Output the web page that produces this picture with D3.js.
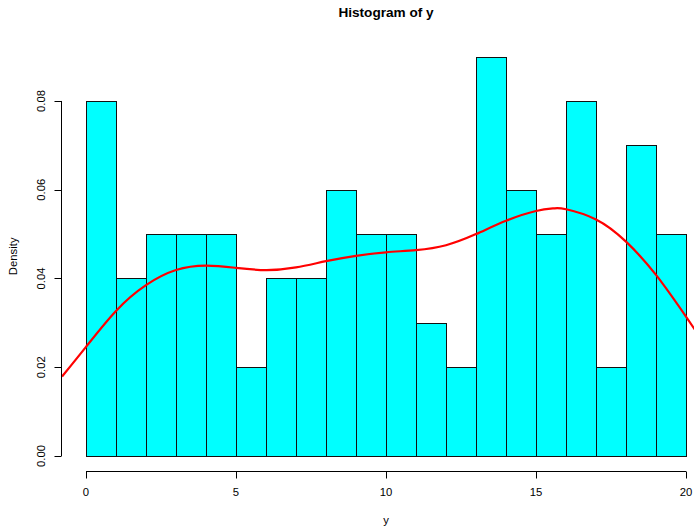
<!DOCTYPE html>
<html>
<head>
<meta charset="utf-8">
<script src="https://cdnjs.cloudflare.com/ajax/libs/d3/7.8.5/d3.min.js"></script>
<style>
  body { margin: 0; background: #fff; }
  svg { display: block; font-family: "Liberation Sans", Arial, sans-serif; }
</style>
</head>
<body>
<svg id="chart" width="694" height="528"></svg>
<script>
// histogram bins (width 1) and densities
const binStarts = d3.range(0, 20);
const densities = [0.08, 0.04, 0.05, 0.05, 0.05, 0.02, 0.04, 0.04, 0.06, 0.05,
                   0.05, 0.03, 0.02, 0.09, 0.06, 0.05, 0.08, 0.02, 0.07, 0.05];

// density curve
const curveX = [-0.8, 0, 1, 2, 3, 4, 5, 6, 7, 8, 9, 10, 11, 12, 13, 14, 15, 15.6, 16, 17, 18, 19, 20, 20.8];
const curveD = [0.0179, 0.0246, 0.0327, 0.0385, 0.0419, 0.0429, 0.0424, 0.0419, 0.0425, 0.0439,
                0.0451, 0.0459, 0.0464, 0.0475, 0.0500, 0.0530, 0.0552, 0.0558, 0.0556, 0.0533,
                0.0483, 0.0408, 0.0314, 0.0235];

const xTicks = [0, 5, 10, 15, 20];
const yTicks = [0, 0.02, 0.04, 0.06, 0.08];

const PLOT = { left: 62, right: 710, top: 40.6, bottom: 472 };

const $svg = d3.select('#chart');

const x = d3.scaleLinear().domain([-0.8, 20.8]).range([PLOT.left, PLOT.right]);
const y = d3.scaleLinear().domain([-0.0036, 0.0936]).range([PLOT.bottom, PLOT.top]);

// bars
$svg.append('g')
    .selectAll('rect')
    .data(binStarts)
    .enter().append('rect')
    .attr('x', d => Math.round(x(d)) + 0.5)
    .attr('y', (d, i) => Math.round(y(densities[i])) + 0.5)
    .attr('width', d => Math.round(x(d + 1)) - Math.round(x(d)))
    .attr('height', (d, i) => Math.round(y(0)) - Math.round(y(densities[i])))
    .attr('fill', '#00ffff')
    .attr('stroke', '#111')
    .attr('stroke-width', 1);

// density line, clipped to plot region
$svg.append('clipPath').attr('id', 'plotclip')
    .append('rect')
    .attr('x', PLOT.left).attr('y', PLOT.top)
    .attr('width', PLOT.right - PLOT.left).attr('height', PLOT.bottom - PLOT.top);

const line = d3.line()
    .x((d, i) => x(curveX[i]))
    .y(d => y(d))
    .curve(d3.curveNatural);

$svg.append('path')
    .attr('clip-path', 'url(#plotclip)')
    .attr('d', line(curveD))
    .attr('fill', 'none')
    .attr('stroke', '#ff0000')
    .attr('stroke-width', 2.2);

// x axis
const xAxis = $svg.append('g').attr('transform', `translate(0, ${PLOT.bottom - 0.5})`);
xAxis.append('line')
    .attr('x1', x(0)).attr('x2', x(20))
    .attr('stroke', '#000');
xAxis.selectAll('.tick')
    .data(xTicks)
    .enter().append('line')
    .attr('x1', d => Math.round(x(d)) + 0.5).attr('x2', d => Math.round(x(d)) + 0.5)
    .attr('y1', 0).attr('y2', 7)
    .attr('stroke', '#000');
xAxis.selectAll('text')
    .data(xTicks)
    .enter().append('text')
    .attr('x', d => x(d))
    .attr('y', 24.5)
    .attr('text-anchor', 'middle')
    .attr('font-size', 11.3)
    .text(d => d);

// y axis
const yAxis = $svg.append('g').attr('transform', `translate(${PLOT.left - 0.5}, 0)`);
yAxis.append('line')
    .attr('y1', y(0)).attr('y2', y(0.08))
    .attr('stroke', '#000');
yAxis.selectAll('.tick')
    .data(yTicks)
    .enter().append('line')
    .attr('y1', d => Math.round(y(d)) + 0.5).attr('y2', d => Math.round(y(d)) + 0.5)
    .attr('x1', 0).attr('x2', -7)
    .attr('stroke', '#000');
yAxis.selectAll('text')
    .data(yTicks)
    .enter().append('text')
    .attr('transform', d => `translate(-16.5, ${y(d)}) rotate(-90)`)
    .attr('text-anchor', 'middle')
    .attr('font-size', 11.3)
    .text(d => d3.format('.2f')(d));

// labels
$svg.append('text')
    .attr('x', (PLOT.left + PLOT.right) / 2)
    .attr('y', 16.5)
    .attr('text-anchor', 'middle')
    .attr('font-size', 13.6)
    .attr('font-weight', 'bold')
    .text('Histogram of y');

$svg.append('text')
    .attr('x', (PLOT.left + PLOT.right) / 2)
    .attr('y', 524)
    .attr('text-anchor', 'middle')
    .attr('font-size', 11.3)
    .text('y');

$svg.append('text')
    .attr('transform', `translate(16.5, ${(PLOT.top + PLOT.bottom) / 2}) rotate(-90)`)
    .attr('text-anchor', 'middle')
    .attr('font-size', 11.3)
    .text('Density');
</script>
</body>
</html>
